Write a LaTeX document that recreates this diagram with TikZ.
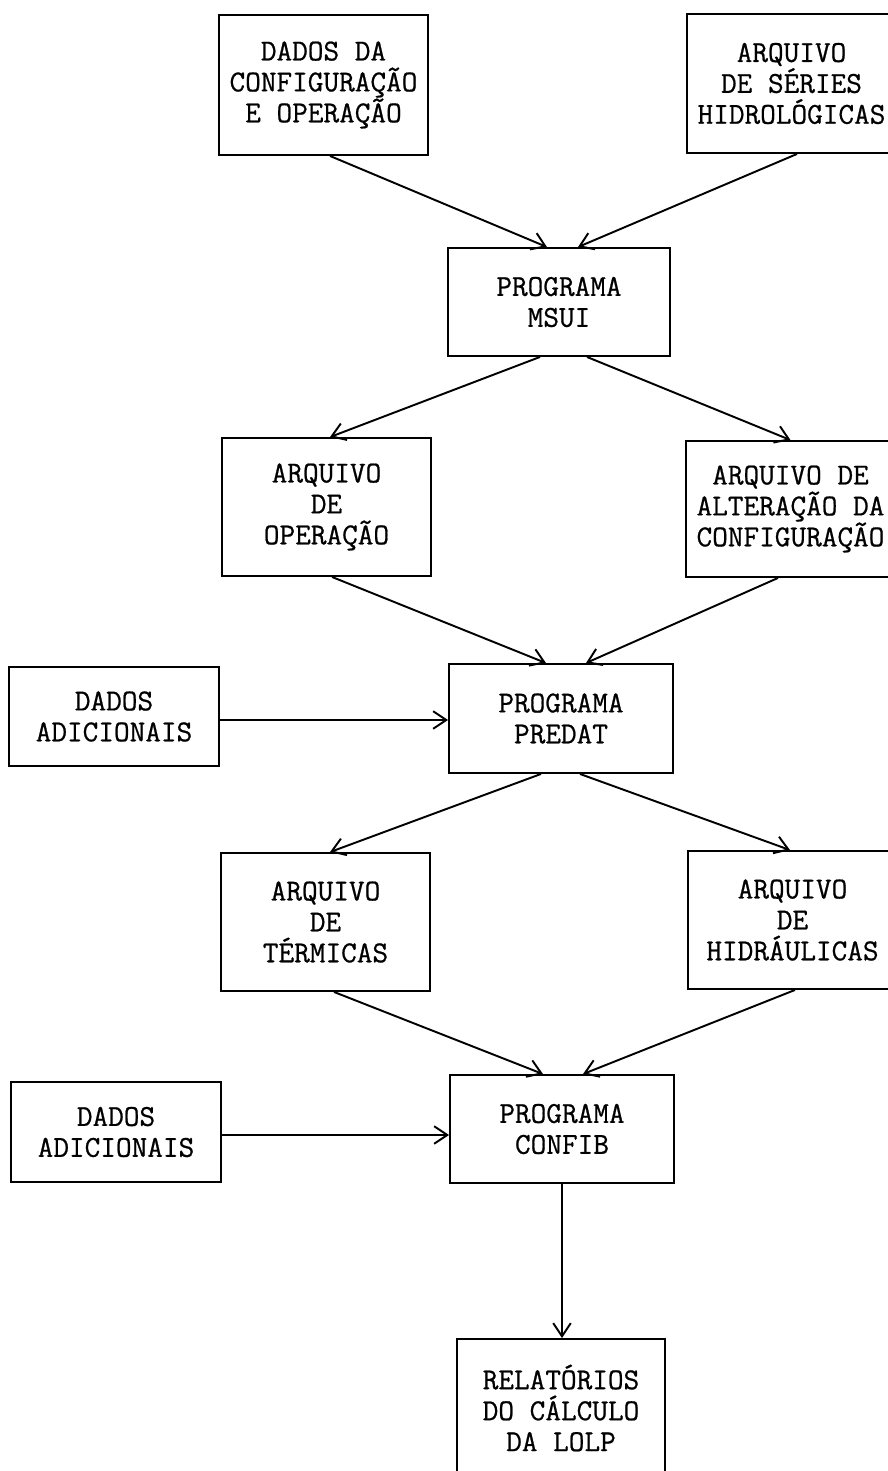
\documentclass[tikz,border=0pt]{standalone}
\usepackage{fontspec}
\usetikzlibrary{arrows.meta}
\newfontfamily\boxtt[FakeBold=0.7]{Latin Modern Mono}
\newcommand{\boxfont}{\boxtt\fontsize{17.3pt}{17.6pt}\selectfont}
\begin{document}
\begin{tikzpicture}[x=0.02cm,y=-0.02cm,
  box/.style={draw, line width=1.1pt, align=center, inner sep=0pt, font=\boxfont},
  flow/.style={line width=1.1pt, -{Straight Barb[length=7.5pt,width=10pt,line width=1.1pt]}}]
\useasboundingbox (0,0) rectangle (888,1471);
\clip (0,0) rectangle (888,1471);

% input data and hydrological series
\node[box, minimum width=4.18cm, minimum height=2.80cm] (cfg) at (323.5,85)
  {DADOS DA\\CONFIGURAÇÃO\\E OPERAÇÃO};
\node[box, minimum width=4.18cm, minimum height=2.78cm] (ser) at (791.5,83.5)
  {ARQUIVO\\DE SÉRIES\\HIDROLÓGICAS};

% first program
\node[box, minimum width=4.44cm, minimum height=2.16cm] (msui) at (559,302)
  {PROGRAMA\\MSUI};

% its output files
\node[box, minimum width=4.18cm, minimum height=2.76cm] (arqop) at (326.5,507)
  {ARQUIVO\\DE\\OPERAÇÃO};
\node[box, minimum width=4.18cm, minimum height=2.72cm] (alter) at (790.5,509)
  {ARQUIVO DE\\ALTERAÇÃO DA\\CONFIGURAÇÃO};

% second program
\node[box, minimum width=4.20cm, minimum height=1.98cm] (add1) at (114,716.5)
  {DADOS\\ADICIONAIS};
\node[box, minimum width=4.48cm, minimum height=2.18cm] (predat) at (561,718.5)
  {PROGRAMA\\PREDAT};

% thermal and hydraulic files
\node[box, minimum width=4.18cm, minimum height=2.76cm] (term) at (325.5,922)
  {ARQUIVO\\DE\\TÉRMICAS};
\node[box, minimum width=4.18cm, minimum height=2.76cm] (hidr) at (792.5,920)
  {ARQUIVO\\DE\\HIDRÁULICAS};

% third program
\node[box, minimum width=4.20cm, minimum height=2.00cm] (add2) at (116,1132)
  {DADOS\\ADICIONAIS};
\node[box, minimum width=4.48cm, minimum height=2.16cm] (confib) at (562,1129)
  {PROGRAMA\\CONFIB};

% final reports
\node[box, minimum width=4.16cm, minimum height=2.76cm] (rel) at (561,1408)
  {RELATÓRIOS\\DO CÁLCULO\\DA LOLP};

% connectors
\draw[flow] ([xshift=0.13cm]cfg.south) -- ([xshift=-0.24cm]msui.north);
\draw[flow] ([xshift=0.11cm]ser.south) -- ([xshift=0.38cm]msui.north);
\draw[flow] ([xshift=-0.38cm]msui.south) -- ([xshift=0.07cm]arqop.north);
\draw[flow] ([xshift=0.56cm]msui.south) -- (alter.north);
\draw[flow] ([xshift=0.11cm]arqop.south) -- ([xshift=-0.30cm]predat.north);
\draw[flow] ([xshift=-0.25cm]alter.south) -- ([xshift=0.50cm]predat.north);
\draw[flow] ([yshift=-0.07cm]add1.east) -- ([yshift=-0.03cm]predat.west);
\draw[flow] ([xshift=-0.40cm]predat.south) -- ([xshift=0.09cm]term.north);
\draw[flow] ([xshift=0.38cm]predat.south) -- ([xshift=-0.05cm]hidr.north);
\draw[flow] ([xshift=0.17cm]term.south) -- ([xshift=-0.38cm]confib.north);
\draw[flow] ([xshift=0.05cm]hidr.south) -- ([xshift=0.42cm]confib.north);
\draw[flow] ([yshift=-0.06cm]add2.east) -- ([yshift=-0.12cm]confib.west);
\draw[flow] (confib.south) -- (confib.south |- rel.north);
\end{tikzpicture}
\end{document}
